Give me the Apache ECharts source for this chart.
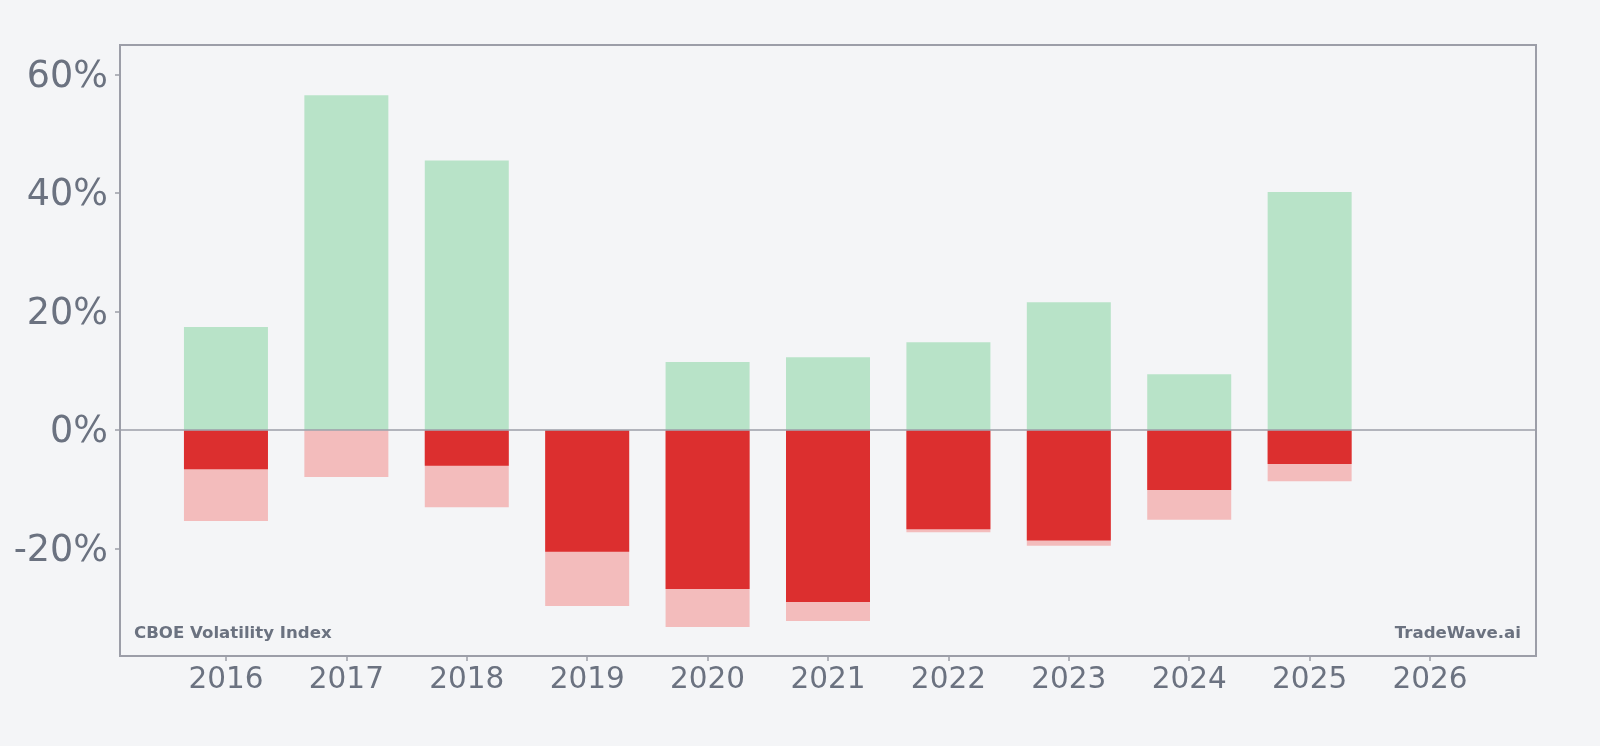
<!DOCTYPE html>
<html>
<head>
<meta charset="utf-8">
<script src="https://cdn.jsdelivr.net/npm/echarts@6/dist/echarts.min.js"></script>
<style>
  html, body { margin: 0; padding: 0; background: #f4f5f7; }
  #main { width: 1600px; height: 746px; }
</style>
</head>
<body>
<div id="main"></div>
<script>
// years shown on the x axis (2026 has no data yet)
var years = [2016, 2017, 2018, 2019, 2020, 2021, 2022, 2023, 2024, 2025, 2026];
// best gain during the year (%)
var maxGain = [17.4, 56.5, 45.5, 0, 11.5, 12.3, 14.85, 21.6, 9.45, 40.2, null];
// worst drawdown during the year (%)
var maxDrawdown = [-15.3, -7.9, -13.0, -29.65, -33.2, -32.2, -17.2, -19.5, -15.1, -8.6, null];
// negative part of the year result (%)
var yearLoss = [-6.6, null, -6.0, -20.5, -26.8, -29.0, -16.7, -18.6, -10.1, -5.7, null];
var yTicks = [-20, 0, 20, 40, 60];

var textGray = '#6b7280';
var frameGray = '#9c9ea8';

function pairs(arr) {
    var out = [];
    for (var i = 0; i < years.length; i++) {
        if (arr[i] !== null) out.push([years[i], arr[i]]);
    }
    return out;
}

var myChart = echarts.init(document.getElementById('main'));

var barCommon = { type: 'bar', barWidth: 84, barGap: '-100%', silent: true };

var option = {
    backgroundColor: '#f4f5f7',
    animation: false,
    grid: {
        left: 120, right: 64, top: 45, bottom: 90,
        show: true, borderColor: frameGray, borderWidth: 2,
        backgroundColor: 'transparent'
    },
    xAxis: {
        type: 'value',
        min: 2015.12,
        max: 2026.88,
        axisLine: { show: false, onZero: false },
        splitLine: { show: false },
        axisTick: { show: true, customValues: years, length: 5, lineStyle: { color: frameGray, width: 1.5 } },
        axisLabel: {
            customValues: years,
            color: textGray, fontSize: 29.5, fontFamily: 'DejaVu Sans', margin: 9,
            formatter: function (v) { return String(v); }
        }
    },
    yAxis: {
        type: 'value',
        min: -38.1,
        max: 65,
        axisLine: { show: false, onZero: false },
        splitLine: { show: false },
        axisTick: { show: true, customValues: yTicks, length: 5, lineStyle: { color: frameGray, width: 1.5 } },
        axisLabel: {
            customValues: yTicks,
            color: textGray, fontSize: 36.5, fontFamily: 'DejaVu Sans', margin: 12,
            formatter: function (v) { return '{p|' + v + '%}'; },
            rich: {
                p: { color: textGray, fontSize: 36.5, fontFamily: 'DejaVu Sans', padding: [5, 0, 0, 0] }
            }
        }
    },
    series: [
        Object.assign({}, barCommon, {
            name: 'Max gain',
            data: pairs(maxGain),
            itemStyle: { color: '#b8e3c8' },
            markLine: {
                silent: true, symbol: 'none', label: { show: false },
                lineStyle: { color: frameGray, width: 1.5, type: 'solid' },
                data: [{ yAxis: 0 }]
            },
            z: 2
        }),
        Object.assign({}, barCommon, {
            name: 'Max drawdown',
            data: pairs(maxDrawdown),
            itemStyle: { color: '#f3bcbc' },
            z: 2
        }),
        Object.assign({}, barCommon, {
            name: 'Year loss',
            data: pairs(yearLoss),
            itemStyle: { color: '#dc2f2f' },
            z: 3
        })
    ],
    graphic: [
        {
            type: 'text', x: 134, y: 634,
            style: { text: 'CBOE Volatility Index', font: 'bold 16.6px "DejaVu Sans"', fill: textGray, verticalAlign: 'middle', align: 'left' }
        },
        {
            type: 'text', x: 1521, y: 634,
            style: { text: 'TradeWave.ai', font: 'bold 16.6px "DejaVu Sans"', fill: textGray, verticalAlign: 'middle', align: 'right' }
        }
    ]
};

myChart.setOption(option);
</script>
</body>
</html>
